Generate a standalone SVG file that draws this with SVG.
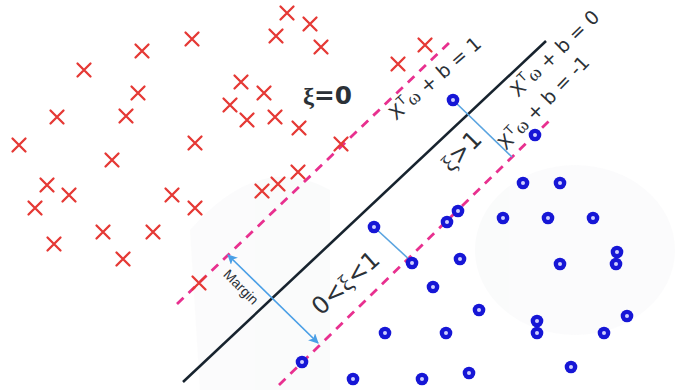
<svg xmlns="http://www.w3.org/2000/svg" xmlns:xlink="http://www.w3.org/1999/xlink" width="675" height="390" viewBox="0 0 675 390">
<style>
.cross{stroke:#e53935;stroke-width:2.3;stroke-linecap:round;fill:none}
.dash{stroke:#e8308f;stroke-width:2.8;stroke-dasharray:9 7;fill:none}
.hyper{stroke:#17232e;stroke-width:2.6;fill:none}
.slack{stroke:#5aa4e0;stroke-width:1.6;fill:none}
.margin{stroke:#4a9fe6;stroke-width:1.7;fill:none}
.eq{font-family:"DejaVu Sans","Liberation Sans",sans-serif;font-size:19px;fill:#2b3137}
.big{font-family:"DejaVu Sans","Liberation Sans",sans-serif;font-size:24px;fill:#2b3137}
.gr{font-family:"Liberation Serif","DejaVu Serif",serif}
.lbl{font-family:"Liberation Sans","DejaVu Sans",sans-serif;font-size:14px;fill:#2b3137}
</style>
<defs>
<g id="x"><path class="cross" d="M-6.5,-6.5L6.5,6.5M6.5,-6.5L-6.5,6.5"/></g>
<g id="o"><circle r="6.3" fill="#1616d6"/><circle r="2" fill="#cfd0ff"/></g>
<marker id="ah" viewBox="0 0 10 10" refX="9" refY="5" markerWidth="10" markerHeight="10" markerUnits="userSpaceOnUse" orient="auto-start-reverse"><path d="M0,0L10,5L0,10L2.5,5Z" fill="#4a9fe6"/></marker>
</defs>
<rect width="675" height="390" fill="#ffffff"/>
<g id="background" fill="#f6f7f8" opacity="0.45">
<ellipse cx="575" cy="250" rx="100" ry="85"/>
<path d="M190,230 Q260,150 330,190 L330,390 L200,390 Z"/>
</g>
<g id="connectors">
<path class="hyper" d="M183,382L546,41"/>
<path class="dash" d="M177,304L452,40"/>
<path class="dash" d="M279,385L553,117"/>
<path class="slack" d="M453,100L512,157"/>
<path class="slack" d="M374,227L412,262"/>
<path class="margin" d="M228,255L318,343" marker-start="url(#ah)" marker-end="url(#ah)"/>
</g>
<g id="crosses">
<use href="#x" x="287" y="13"/><use href="#x" x="310" y="24"/><use href="#x" x="276" y="36"/><use href="#x" x="321" y="47"/>
<use href="#x" x="192" y="39"/><use href="#x" x="142" y="51"/><use href="#x" x="84" y="70"/><use href="#x" x="241" y="82"/>
<use href="#x" x="264" y="93"/><use href="#x" x="138" y="93"/><use href="#x" x="57" y="117"/><use href="#x" x="126" y="116"/>
<use href="#x" x="230" y="105"/><use href="#x" x="247" y="120"/><use href="#x" x="275" y="117"/><use href="#x" x="299" y="128"/>
<use href="#x" x="19" y="145"/><use href="#x" x="195" y="143"/><use href="#x" x="112" y="160"/><use href="#x" x="298" y="172"/>
<use href="#x" x="278" y="184"/><use href="#x" x="262" y="191"/><use href="#x" x="47" y="185"/><use href="#x" x="69" y="195"/>
<use href="#x" x="172" y="195"/><use href="#x" x="35" y="208"/><use href="#x" x="195" y="208"/><use href="#x" x="103" y="232"/>
<use href="#x" x="153" y="232"/><use href="#x" x="54" y="244"/><use href="#x" x="123" y="259"/><use href="#x" x="199" y="283"/>
<use href="#x" x="341" y="144"/><use href="#x" x="425" y="45"/><use href="#x" x="398" y="64"/>
</g>
<g id="circles">
<use href="#o" x="453" y="100"/><use href="#o" x="535" y="135"/><use href="#o" x="523" y="183"/><use href="#o" x="560" y="183"/>
<use href="#o" x="458" y="211"/><use href="#o" x="447" y="222"/><use href="#o" x="503" y="218"/><use href="#o" x="548" y="218"/>
<use href="#o" x="593" y="218"/><use href="#o" x="374" y="227"/><use href="#o" x="412" y="263"/><use href="#o" x="460" y="259"/>
<use href="#o" x="560" y="264"/><use href="#o" x="617" y="252"/><use href="#o" x="616" y="264"/><use href="#o" x="433" y="287"/>
<use href="#o" x="479" y="310"/><use href="#o" x="537" y="321"/><use href="#o" x="537" y="333"/><use href="#o" x="627" y="316"/>
<use href="#o" x="385" y="333"/><use href="#o" x="446" y="333"/><use href="#o" x="604" y="333"/><use href="#o" x="571" y="367"/>
<use href="#o" x="353" y="379"/><use href="#o" x="422" y="379"/><use href="#o" x="469" y="373"/><use href="#o" x="302" y="362"/>
</g>
<g id="labels">
<text class="eq" transform="translate(396,121) rotate(-41)">X<tspan font-size="12.5" dy="-8" dx="0.5">T</tspan><tspan class="gr" dy="8" dx="1">ω</tspan> + b = 1</text>
<text class="eq" transform="translate(518,98) rotate(-44)">X<tspan font-size="12.5" dy="-8" dx="0.5">T</tspan><tspan class="gr" dy="8" dx="1">ω</tspan> + b = 0</text>
<text class="eq" transform="translate(506,151) rotate(-46)">X<tspan font-size="12.5" dy="-8" dx="0.5">T</tspan><tspan class="gr" dy="8" dx="1">ω</tspan> + b = -1</text>
<text class="big" transform="translate(467,157) rotate(-45)" text-anchor="middle"><tspan class="gr">ξ</tspan>&gt;1</text>
<text class="big" transform="translate(351,289) rotate(-42)" text-anchor="middle" font-size="25"><tspan>0&lt;</tspan><tspan class="gr">ξ</tspan><tspan>&lt;1</tspan></text>
<text class="big" x="303" y="104" font-size="22" font-weight="bold" textLength="49" lengthAdjust="spacingAndGlyphs"><tspan class="gr">ξ</tspan>=0</text>
<text class="lbl" transform="translate(241,287) rotate(45)" text-anchor="middle" dy="0.35em">Margin</text>
</g>
</svg>
